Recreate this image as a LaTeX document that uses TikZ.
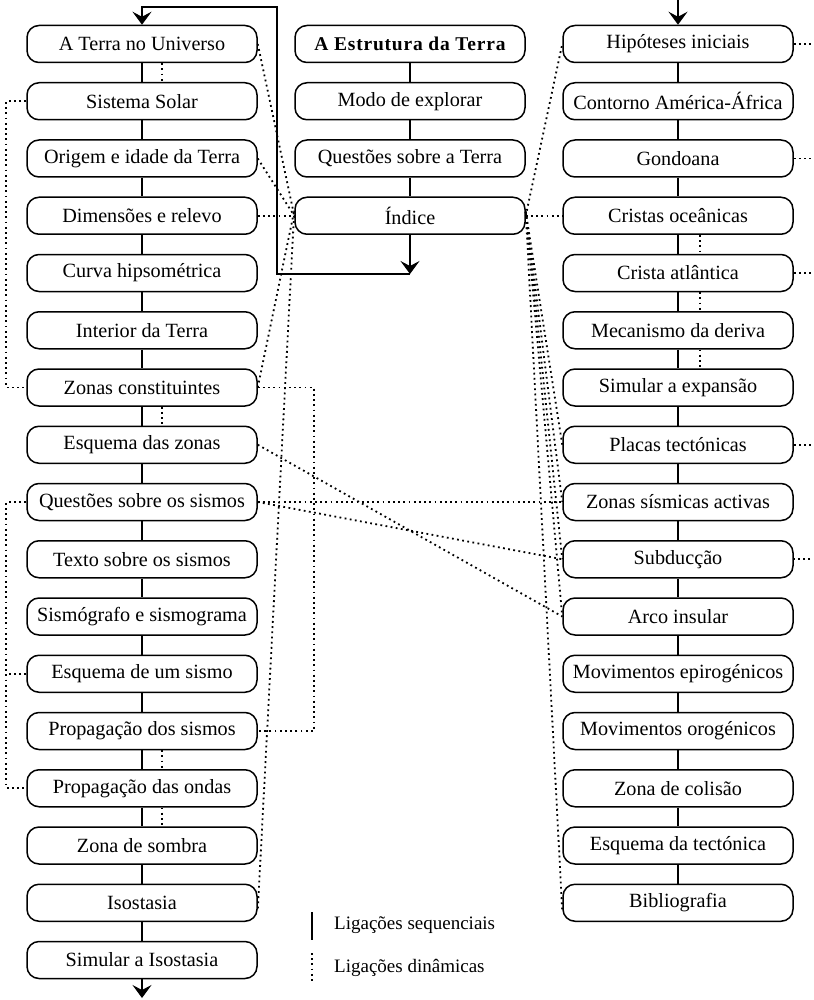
\documentclass[tikz,border=0pt]{standalone}
\usepackage{fontspec}
\setmainfont{Liberation Serif}
\newfontfamily\titlefont[LetterSpace=4]{Liberation Serif}
\usetikzlibrary{arrows.meta,calc}
\begin{document}
\begin{tikzpicture}[x=1pt,y=-1pt,
  box/.style={draw,line width=1.5pt,rounded corners=12pt,minimum width=230pt,minimum height=37pt,inner sep=0pt,font=\fontsize{20.2}{22}\selectfont},
  seq/.style={line width=1.5pt},
  dyn/.style={line width=1.8pt,dash pattern=on 1.8pt off 3.4pt},
  tip/.style={-{Stealth[length=13pt,width=19pt,inset=5pt]}},
  lab/.style={anchor=west,inner sep=0pt,font=\fontsize{19}{22}\selectfont}]
\useasboundingbox (0,0) rectangle (813,1000);
% left column
\foreach \n/\t [count=\i from 0] in {L1/A Terra no Universo,L2/Sistema Solar,L3/Origem e idade da Terra,L4/Dimensões e relevo,L5/Curva hipsométrica,L6/Interior da Terra,L7/Zonas constituintes,L8/Esquema das zonas,L9/Questões sobre os sismos,L10/Texto sobre os sismos,L11/Sismógrafo e sismograma,L12/Esquema de um sismo,L13/Propagação dos sismos,L14/Propagação das ondas,L15/Zona de sombra,L16/Isostasia,L17/Simular a Isostasia}
  \node[box] (\n) at (142,{44+57.25*\i}) {\t};
% center column
\node[box,font=\fontsize{19.5}{22}\selectfont\titlefont\bfseries] (C1) at (410,44) {A Estrutura da Terra};
\node[box] (C2) at (410,101.25) {Modo de explorar};
\node[box] (C3) at (410,158.5) {Questões sobre a Terra};
\node[box] (C4) at (410,215.75) {Índice};
% right column
\foreach \n/\t [count=\i from 0] in {R1/Hipóteses iniciais,R2/Contorno América-África,R3/Gondoana,R4/Cristas oceânicas,R5/Crista atlântica,R6/Mecanismo da deriva,R7/Simular a expansão,R8/Placas tectónicas,R9/Zonas sísmicas activas,R10/Subducção,R11/Arco insular,R12/Movimentos epirogénicos,R13/Movimentos orogénicos,R14/Zona de colisão,R15/Esquema da tectónica,R16/Bibliografia}
  \node[box] (\n) at (678,{44+57.25*\i}) {\t};
% sequential links
\foreach \a/\b in {L1/L2,L2/L3,L3/L4,L4/L5,L5/L6,L6/L7,L7/L8,L8/L9,L9/L10,L10/L11,L11/L12,L12/L13,L13/L14,L14/L15,L15/L16,L16/L17,C1/C2,C2/C3,C3/C4,R1/R2,R2/R3,R3/R4,R4/R5,R5/R6,R6/R7,R7/R8,R8/R9,R9/R10,R10/R11,R11/R12,R12/R13,R13/R14,R14/R15,R15/R16}
  \draw[seq] (\a.south) -- (\b.north);
% arrows and loop
\coordinate (ia) at (410,274);
\coordinate (ib) at (277,274);
\coordinate (ic) at (277,7);
\coordinate (lbot) at (142,998);
\coordinate (rtop) at (678,0);
\draw[seq,tip] (C4.south) -- (ia);
\draw[seq,tip] (ia) -- (ib) -- (ic) -| (L1.north);
\draw[seq,tip] (L17.south) -- (lbot);
\draw[seq,tip] (rtop) -- (R1.north);
% dynamic links: short verticals
\foreach \a/\b in {L1/L2,L7/L8,L13/L14,L14/L15}
  \draw[dyn] ([xshift=20pt]\a.south) -- ([xshift=20pt]\b.north);
\foreach \a/\b in {R4/R5,R5/R6,R6/R7}
  \draw[dyn] ([xshift=22pt]\a.south) -- ([xshift=22pt]\b.north);
% left loops
\draw[dyn] (L2.west) -- ++(-20,0) |- (L7.west);
\draw[dyn] (L9.west) -- ++(-20,0) |- (L14.west);
\draw[dyn] (L12.west) -- ++(-20,0);
\draw[dyn] (L7.east) -- ++(56,0) |- (L13.east);
% to Indice (left)
\draw[dyn] (L1.east) -- (C4.west);
\draw[dyn] (L3.east) -- (C4.west);
\draw[dyn] (L4.east) -- (C4.west);
\draw[dyn] (L7.east) -- ([yshift=5pt]C4.west);
\draw[dyn] ([yshift=5pt]C4.west) -- ([yshift=-8pt]L16.east);
% cross links
\draw[dyn] (L8.east) -- (R11.west);
\draw[dyn] (L9.east) -- (R9.west);
\draw[dyn] (L9.east) -- (R10.west);
% from Indice (right)
\draw[dyn] (C4.east) -- (R1.west);
\draw[dyn] (C4.east) -- (R4.west);
\foreach \r in {R8,R9,R10,R11}
  \draw[dyn] ([yshift=4pt]C4.east) -- (\r.west);
\draw[dyn] ([yshift=4pt]C4.east) -- ([yshift=-8pt]R16.west);
% right edge
\draw[dyn] (R1.east) -- ++(21,0) |- (R10.east);
\foreach \r in {R3,R5,R8}
  \draw[dyn] (\r.east) -- ++(21,0);
% legend
\coordinate (s1) at (312,912);
\coordinate (s2) at (312,940);
\coordinate (d1) at (312,953);
\coordinate (d2) at (312,982);
\draw[line width=1.3pt] (s1) -- (s2);
\draw[dyn,line width=1.3pt] (d1) -- (d2);
\node[lab] (ls) at (334,925) {Ligações sequenciais};
\node[lab] (ld) at (334,968) {Ligações dinâmicas};
\end{tikzpicture}
\end{document}
